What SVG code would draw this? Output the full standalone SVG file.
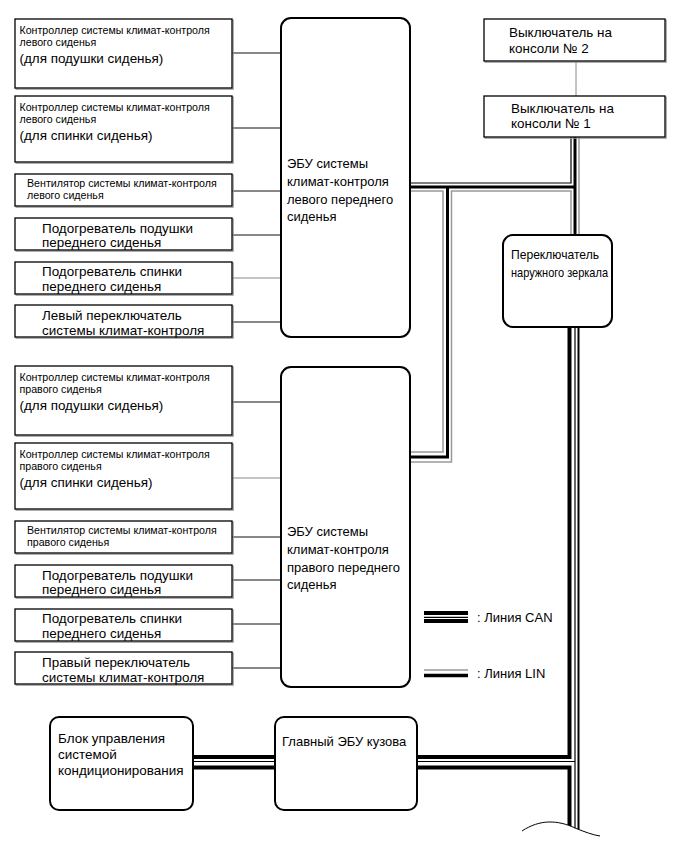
<svg xmlns="http://www.w3.org/2000/svg" width="690" height="855" viewBox="0 0 690 855">
<style>
text{font-family:"Liberation Sans",Arial,sans-serif;fill:#000}
.s{font-size:10.65px}
.l{font-size:13.45px}
.e{font-size:13px}
.m{font-size:13px}
.box{fill:#fff;stroke:#000;stroke-width:1.3}
.sh{fill:none;stroke:#999;stroke-width:1.2}
.ecu{fill:#fff;stroke:#000;stroke-width:2}
.w{fill:none;stroke:#111;stroke-width:1}
.wg{fill:none;stroke:#888;stroke-width:1}
.tb{fill:none;stroke:#000;stroke-width:3}
.tb4{fill:none;stroke:#000;stroke-width:4}
.tn{fill:none;stroke:#000;stroke-width:1.2}
.gr{fill:none;stroke:#999;stroke-width:1.5}
</style>
<g id="connectors">
<path class="w" d="M232 53H281M232 128H281M232 191H281M232 235H281M232 322H281"/>
<path class="wg" d="M232 278H281"/>
<path class="w" d="M232 402H281M232 537H281M232 580H281M232 624H281M232 668H281"/>
<path class="wg" d="M232 478H281"/>
<path class="wg" d="M576 62V97"/>
<path class="tn" d="M571 137V183H410"/>
<path class="tb" d="M575 137V236M410 187H575"/>
<path class="gr" d="M579 137V236"/>
<path class="gr" d="M410 191H443V452H410"/>
<path class="tb" d="M447.5 187V457H410"/>
<path class="gr" d="M571 236V191H451.5V462H410"/>
<path class="tb4" d="M569.5 327V757H417"/>
<path class="tb4" d="M417 767.5H569.5V829"/>
<path class="tn" d="M575 327V828M417 761.5H575"/>
<path fill="none" stroke="#000" stroke-width="2" d="M578.5 327V831"/>
<path class="tb4" d="M193 757H275M193 767.5H275"/>
<path class="tn" d="M193 761.5H275"/>
<path fill="#fff" stroke="none" d="M522 831C540 819 558 820 575 828C585 832 595 835 605 838V850H522Z"/>
<path fill="none" stroke="#000" stroke-width="1" d="M522 831C540 819 558 820 575 828C585 832 593 835 600 836"/>
</g>
<g id="legend">
<path class="tb4" d="M424 613H468"/>
<path class="tn" d="M424 617.3H468"/>
<path class="tb4" d="M424 621H468"/>
<text class="e" x="477" y="622">:  Линия CAN</text>
<path class="gr" d="M424 670H468"/>
<path fill="none" stroke="#000" stroke-width="3.5" d="M424 675.5H468"/>
<text class="e" x="477" y="678">:  Линия LIN</text>
</g>
<g id="ecu-left">
<rect class="ecu" x="281" y="18" width="129" height="319" rx="10"/>
<text class="e" x="287" y="168">ЭБУ системы</text>
<text class="e" x="287" y="186">климат-контроля</text>
<text class="e" x="287" y="203.5">левого переднего</text>
<text class="e" x="287" y="221">сиденья</text>
</g>
<g id="ecu-right">
<rect class="ecu" x="281" y="367" width="129" height="320" rx="10"/>
<text class="e" x="287" y="536">ЭБУ системы</text>
<text class="e" x="287" y="554">климат-контроля</text>
<text class="e" x="287" y="571.5">правого переднего</text>
<text class="e" x="287" y="589">сиденья</text>
</g>
<g id="l-ctrl-cushion">
<rect class="sh" x="16.2" y="20.2" width="217" height="69"/>
<rect class="box" x="15" y="19" width="217" height="69"/>
<text class="s" x="19.5" y="34">Контроллер системы климат-контроля</text>
<text class="s" x="19.5" y="46">левого сиденья</text>
<text class="l" x="19.5" y="63">(для подушки сиденья)</text>
</g>
<g id="l-ctrl-back">
<rect class="sh" x="16.2" y="97.2" width="217" height="66"/>
<rect class="box" x="15" y="96" width="217" height="66"/>
<text class="s" x="19.5" y="111">Контроллер системы климат-контроля</text>
<text class="s" x="19.5" y="123">левого сиденья</text>
<text class="l" x="19.5" y="140">(для спинки сиденья)</text>
</g>
<g id="l-fan">
<rect class="sh" x="16.2" y="175.2" width="217" height="32"/>
<rect class="box" x="15" y="174" width="217" height="32"/>
<text class="s" x="27" y="187">Вентилятор системы климат-контроля</text>
<text class="s" x="27" y="199">левого сиденья</text>
</g>
<g id="l-heat-cushion">
<rect class="sh" x="16.2" y="219.2" width="217" height="32"/>
<rect class="box" x="15" y="218" width="217" height="32"/>
<text class="l" x="42" y="233">Подогреватель подушки</text>
<text class="l" x="42" y="247">переднего сиденья</text>
</g>
<g id="l-heat-back">
<rect class="sh" x="16.2" y="263.2" width="217" height="32"/>
<rect class="box" x="15" y="262" width="217" height="32"/>
<text class="l" x="42" y="276">Подогреватель спинки</text>
<text class="l" x="42" y="291">переднего сиденья</text>
</g>
<g id="l-switch">
<rect class="sh" x="16.2" y="306.2" width="217" height="32"/>
<rect class="box" x="15" y="305" width="217" height="32"/>
<text class="l" x="42" y="320">Левый переключатель</text>
<text class="l" x="42" y="335">системы климат-контроля</text>
</g>
<g id="r-ctrl-cushion">
<rect class="sh" x="16.2" y="367.2" width="217" height="69"/>
<rect class="box" x="15" y="366" width="217" height="69"/>
<text class="s" x="19.5" y="381">Контроллер системы климат-контроля</text>
<text class="s" x="19.5" y="393">правого сиденья</text>
<text class="l" x="19.5" y="410">(для подушки сиденья)</text>
</g>
<g id="r-ctrl-back">
<rect class="sh" x="16.2" y="444.2" width="217" height="66"/>
<rect class="box" x="15" y="443" width="217" height="66"/>
<text class="s" x="19.5" y="458">Контроллер системы климат-контроля</text>
<text class="s" x="19.5" y="470">правого сиденья</text>
<text class="l" x="19.5" y="487">(для спинки сиденья)</text>
</g>
<g id="r-fan">
<rect class="sh" x="16.2" y="522.2" width="217" height="32"/>
<rect class="box" x="15" y="521" width="217" height="32"/>
<text class="s" x="27" y="534">Вентилятор системы климат-контроля</text>
<text class="s" x="27" y="546">правого сиденья</text>
</g>
<g id="r-heat-cushion">
<rect class="sh" x="16.2" y="566.2" width="217" height="32"/>
<rect class="box" x="15" y="565" width="217" height="32"/>
<text class="l" x="42" y="580">Подогреватель подушки</text>
<text class="l" x="42" y="594">переднего сиденья</text>
</g>
<g id="r-heat-back">
<rect class="sh" x="16.2" y="610.2" width="217" height="32"/>
<rect class="box" x="15" y="609" width="217" height="32"/>
<text class="l" x="42" y="623">Подогреватель спинки</text>
<text class="l" x="42" y="638">переднего сиденья</text>
</g>
<g id="r-switch">
<rect class="sh" x="16.2" y="653.2" width="217" height="32"/>
<rect class="box" x="15" y="652" width="217" height="32"/>
<text class="l" x="42" y="667">Правый переключатель</text>
<text class="l" x="42" y="682">системы климат-контроля</text>
</g>
<g id="console-sw2">
<rect class="sh" x="485.2" y="20.2" width="181" height="42"/>
<rect class="box" x="484" y="19" width="181" height="42"/>
<text class="l" x="509" y="37">Выключатель на</text>
<text class="l" x="509" y="53">консоли № 2</text>
</g>
<g id="console-sw1">
<rect class="sh" x="485.2" y="97.2" width="181" height="41"/>
<rect class="box" x="484" y="96" width="181" height="41"/>
<text class="l" x="511" y="113">Выключатель на</text>
<text class="l" x="511" y="128">консоли № 1</text>
</g>
<g id="mirror-switch">
<rect class="ecu" x="503" y="235" width="109" height="92" rx="10"/>
<text class="m" x="511" y="259" textLength="88" lengthAdjust="spacingAndGlyphs">Переключатель</text>
<text class="m" x="511" y="277" textLength="97" lengthAdjust="spacingAndGlyphs">наружного зеркала</text>
</g>
<g id="ac-control">
<rect class="ecu" x="50" y="717" width="143" height="93" rx="9"/>
<text class="l" x="58" y="743">Блок управления</text>
<text class="l" x="58" y="759">системой</text>
<text class="l" x="58" y="775">кондиционирования</text>
</g>
<g id="body-ecu">
<rect class="ecu" x="275" y="717" width="142" height="93" rx="9"/>
<text class="e" x="282" y="746">Главный ЭБУ кузова</text>
</g>
</svg>
